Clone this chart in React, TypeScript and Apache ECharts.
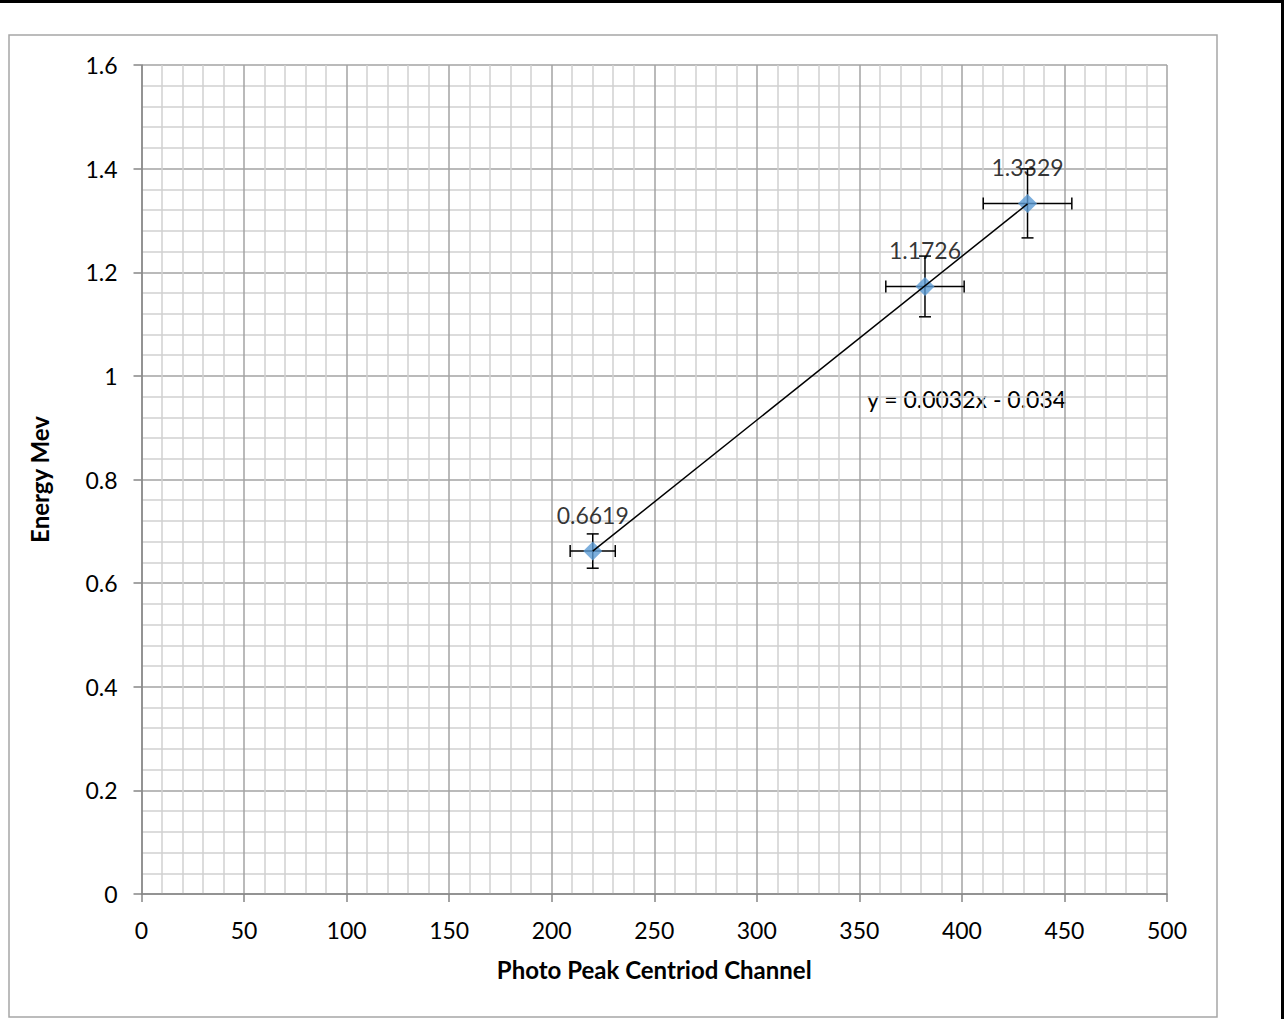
import React, { useEffect, useRef } from "react";
import * as echarts from "echarts";

const channels = [220, 382, 432];
const energies = [0.6619, 1.1726, 1.3329];
const channelErr = [11, 19.1, 21.6];
const energyErr = [0.0331, 0.0586, 0.0666];
const equationText = "y = 0.0032x - 0.034";
const xTitle = "Photo Peak Centriod Channel";
const yTitle = "Energy Mev";

const FONT = "Lato";

function linearFit(xs: number[], ys: number[]) {
  const n = xs.length;
  const mx = xs.reduce((a, b) => a + b, 0) / n;
  const my = ys.reduce((a, b) => a + b, 0) / n;
  let sxy = 0;
  let sxx = 0;
  for (let i = 0; i < n; i++) {
    sxy += (xs[i] - mx) * (ys[i] - my);
    sxx += (xs[i] - mx) * (xs[i] - mx);
  }
  const slope = sxy / sxx;
  return { slope, intercept: my - slope * mx };
}

export default function App() {
  const ref = useRef<HTMLDivElement>(null);

  useEffect(() => {
    if (!ref.current) return;
    const chart = echarts.init(ref.current, undefined, { renderer: "svg" });

    const fit = linearFit(channels, energies);
    const xMin = Math.min(...channels);
    const xMax = Math.max(...channels);
    const trend = [
      [xMin, fit.slope * xMin + fit.intercept],
      [xMax, fit.slope * xMax + fit.intercept],
    ];

    const points = channels.map((c, i) => [c, energies[i]]);
    const errData = channels.map((c, i) => [c, energies[i], channelErr[i], energyErr[i]]);

    const axisColor = "#868686";

    chart.setOption({
      animation: false,
      textStyle: { fontFamily: FONT },
      grid: { left: 141.5, top: 65, right: 120, bottom: 125, containLabel: false },
      xAxis: {
        type: "value",
        min: 0,
        max: 500,
        interval: 50,
        name: xTitle,
        nameLocation: "middle",
        nameGap: 63,
        nameTextStyle: { fontFamily: FONT, fontSize: 24, fontWeight: "bold", color: "#000" },
        axisLine: { show: true, onZero: false, lineStyle: { color: axisColor, width: 1.5 } },
        axisTick: { show: true, length: 8, lineStyle: { color: axisColor, width: 1.5 } },
        axisLabel: { fontFamily: FONT, fontSize: 23, color: "#000", margin: 24 },
        splitLine: { show: true, lineStyle: { color: "#a3a3a3", width: 1.5 } },
        minorTick: { show: false, splitNumber: 5 },
        minorSplitLine: { show: true, lineStyle: { color: "#d0d0d0", width: 1.5 } },
      },
      yAxis: {
        type: "value",
        min: 0,
        max: 1.6,
        interval: 0.2,
        name: yTitle,
        nameLocation: "middle",
        nameGap: 90,
        nameRotate: 90,
        nameTextStyle: { fontFamily: FONT, fontSize: 24, fontWeight: "bold", color: "#000" },
        axisLine: { show: true, onZero: false, lineStyle: { color: axisColor, width: 1.5 } },
        axisTick: { show: true, length: 8, lineStyle: { color: axisColor, width: 1.5 } },
        axisLabel: {
          fontFamily: FONT,
          fontSize: 23,
          color: "#000",
          margin: 24,
          formatter: (v: number) => String(+v.toFixed(1)),
        },
        splitLine: { show: true, lineStyle: { color: "#a3a3a3", width: 1.5 } },
        minorTick: { show: false, splitNumber: 5 },
        minorSplitLine: { show: true, lineStyle: { color: "#d0d0d0", width: 1.5 } },
      },
      series: [
        {
          type: "custom",
          z: 2,
          data: errData,
          renderItem: (params: any, api: any) => {
            const x = api.value(0);
            const y = api.value(1);
            const ex = api.value(2);
            const ey = api.value(3);
            const c = api.coord([x, y]);
            const l = api.coord([x - ex, y]);
            const r = api.coord([x + ex, y]);
            const t = api.coord([x, y + ey]);
            const b = api.coord([x, y - ey]);
            const cap = 6;
            const style = { stroke: "#000", lineWidth: 1.5 };
            return {
              type: "group",
              children: [
                { type: "line", shape: { x1: l[0], y1: c[1], x2: r[0], y2: c[1] }, style },
                { type: "line", shape: { x1: l[0], y1: c[1] - cap, x2: l[0], y2: c[1] + cap }, style },
                { type: "line", shape: { x1: r[0], y1: c[1] - cap, x2: r[0], y2: c[1] + cap }, style },
                { type: "line", shape: { x1: c[0], y1: t[1], x2: c[0], y2: b[1] }, style },
                { type: "line", shape: { x1: c[0] - cap, y1: t[1], x2: c[0] + cap, y2: t[1] }, style },
                { type: "line", shape: { x1: c[0] - cap, y1: b[1], x2: c[0] + cap, y2: b[1] }, style },
              ],
            };
          },
        },
        {
          type: "scatter",
          z: 3,
          data: points,
          symbol: "diamond",
          symbolSize: 19,
          itemStyle: { color: "#5b9bd5" },
          label: {
            show: true,
            position: "top",
            distance: 15,
            fontFamily: FONT,
            fontSize: 23,
            color: "#000",
            formatter: (p: any) => String(p.value[1]),
          },
        },
        {
          type: "line",
          z: 4,
          data: trend,
          symbol: "none",
          lineStyle: { color: "#000", width: 1.5 },
        },
      ],
      graphic: [
        {
          type: "rect",
          shape: { x: 9, y: 35, width: 1208, height: 982 },
          style: { fill: "none", stroke: "#a6a6a6", lineWidth: 1.5 },
          silent: true,
        },
        {
          type: "line",
          shape: { x1: 0, y1: 1.5, x2: 1284, y2: 1.5 },
          style: { stroke: "#000", lineWidth: 3 },
          silent: true,
        },
        {
          type: "line",
          shape: { x1: 1282.5, y1: 0, x2: 1282.5, y2: 1019 },
          style: { stroke: "#000", lineWidth: 3 },
          silent: true,
        },
        {
          type: "text",
          left: 867,
          top: 387,
          style: { text: equationText, fontFamily: FONT, fontSize: 23, fill: "#000" },
          silent: true,
        },
      ],
    });

    return () => chart.dispose();
  }, []);

  return (
    <div
      ref={ref}
      style={{ position: "absolute", left: 0, top: 0, width: 1287, height: 1019, background: "#fff" }}
    />
  );
}
